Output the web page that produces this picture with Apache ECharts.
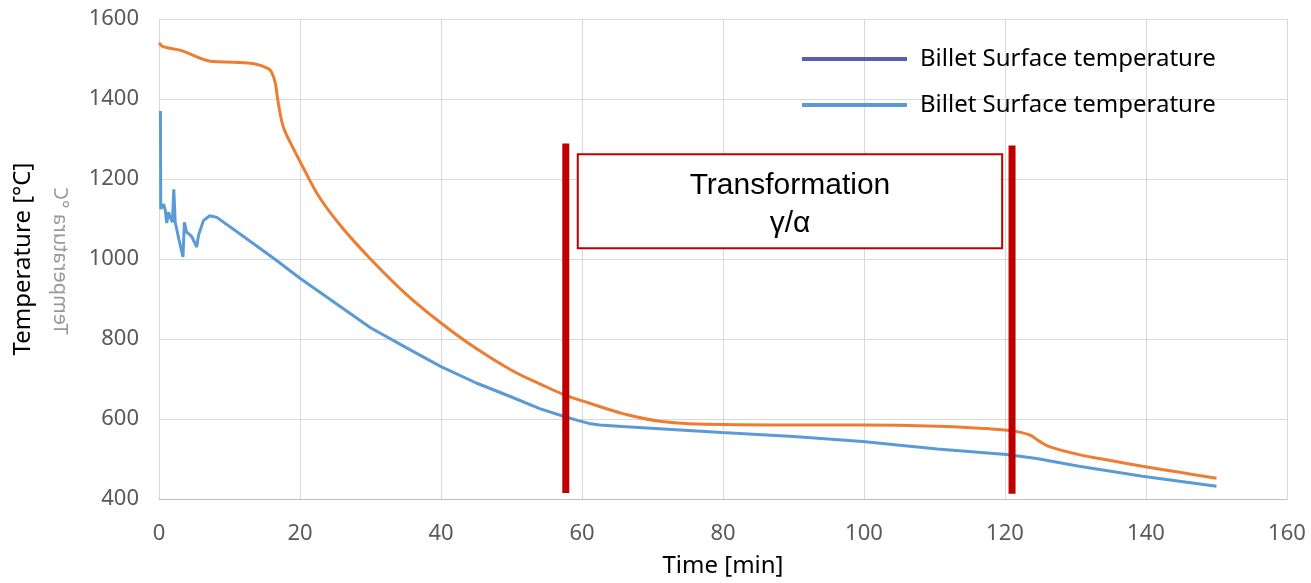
<!DOCTYPE html>
<html>
<head>
<meta charset="utf-8">
<script src="https://cdn.jsdelivr.net/npm/echarts@6/dist/echarts.min.js"></script>
<style>
  html, body { margin: 0; padding: 0; background: #fff; }
  #chart { width: 1311px; height: 583px; }
</style>
</head>
<body>
<div id="chart"></div>
<script>
// 中心温度 (orange)
var coreTime = [0, 0.6, 3.2, 7.5, 10.7, 13.5, 15.5, 16.0, 16.5, 16.8, 17.2, 17.5, 17.9, 18.6, 20.5, 22.8, 26, 30, 35, 40, 45, 50, 54, 57.7, 61, 65.7, 71.3, 79.8, 90, 99.8, 110.4, 117.4, 120.7, 123.5, 124.9, 126.3, 130.5, 135, 139.5, 145, 150];
var coreTemp = [1540, 1531, 1521, 1494, 1492, 1488, 1476, 1466, 1440, 1403, 1362, 1338, 1318, 1292, 1227, 1153, 1078, 1000, 913, 840, 776, 722, 688, 659, 640, 614, 594, 586, 585, 585, 582, 576, 571, 560, 544, 531, 511, 496, 482, 466, 452];

// 表面温度 (blue)
var surfTime = [0.2, 0.25, 0.66, 0.9, 1.1, 1.35, 1.7, 1.9, 2.1, 2.3, 2.8, 3.4, 3.6, 3.9, 4.65, 5.35, 5.6, 6.3, 7.2, 8.2, 11.7, 16.4, 20, 25, 30, 35, 40, 45, 50, 54, 57.7, 59.5, 61, 62.5, 65.7, 79.8, 90, 99.8, 110.4, 120.2, 124.5, 130.5, 139.5, 150];
var surfTemp = [1370, 1125, 1137, 1121, 1090, 1117, 1100, 1092, 1174, 1092, 1051, 1005, 1092, 1068, 1056, 1030, 1059, 1096, 1108, 1104, 1060, 1000, 952, 890, 828, 779, 731, 690, 655, 626, 605, 596, 589, 585, 581, 566, 556, 544, 525, 511, 501, 482, 457, 432];

// 相变区间 (red markers)
var transStart = [[57.7, 415], [57.7, 1289]];
var transEnd = [[121.0, 413], [121.0, 1284]];
var boxCorners = [[59.4, 1262], [119.6, 1027]];

var legendNames = ['surfA', 'surfB'];
var legendLabel = 'Billet Surface temperature';

function zip(a, b) {
  return a.map(function (v, i) { return [v, b[i]]; });
}

var myChart = echarts.init(document.getElementById('chart'));
var font = 'Noto Sans';

var option = {
  backgroundColor: '#fff',
  animation: false,
  grid: { left: 159, right: 24, top: 19, bottom: 79 },
  legend: {
    data: legendNames,
    orient: 'vertical',
    left: 802,
    top: 47,
    padding: 0,
    itemGap: 22,
    icon: 'rect',
    itemWidth: 105,
    itemHeight: 4,
    formatter: function () { return legendLabel; },
    textStyle: { fontFamily: font, fontSize: 24, color: '#000', padding: [0, 0, 0, 8] }
  },
  xAxis: {
    type: 'value',
    min: 0,
    max: 160,
    interval: 20,
    name: 'Time [min]',
    nameLocation: 'middle',
    nameGap: 55,
    nameTextStyle: { fontFamily: font, fontSize: 24, color: '#000' },
    axisLine: { lineStyle: { color: '#bfbfbf', width: 1 } },
    axisTick: { show: false },
    axisLabel: { margin: 24, fontFamily: font, fontSize: 22, color: '#595959' },
    splitLine: { show: true, lineStyle: { color: '#d9d9d9', width: 1 } }
  },
  yAxis: {
    type: 'value',
    min: 400,
    max: 1600,
    interval: 200,
    name: 'Temperature [°C]',
    nameLocation: 'middle',
    nameGap: 124,
    nameTextStyle: { fontFamily: font, fontSize: 24, color: '#000' },
    axisLine: { show: false },
    axisTick: { show: false },
    axisLabel: {
      margin: 20, fontFamily: font, fontSize: 22, color: '#595959',
      formatter: function (v) { return String(v); }
    },
    splitLine: { lineStyle: { color: '#d9d9d9', width: 1 } }
  },
  graphic: [{
    type: 'text',
    x: 60,
    y: 261,
    rotation: Math.PI / 2,
    scaleY: -1,
    silent: true,
    style: {
      text: 'Temperatura °C',
      fontFamily: font,
      fontSize: 20,
      fill: '#999',
      align: 'center',
      verticalAlign: 'middle'
    }
  }],
  series: [
    {
      name: 'core',
      type: 'line',
      data: zip(coreTime, coreTemp),
      smooth: 0.4,
      showSymbol: false,
      lineStyle: { color: '#ED7D31', width: 3 },
      itemStyle: { color: '#ED7D31' },
      z: 3
    },
    {
      name: 'surfB',
      type: 'line',
      data: zip(surfTime, surfTemp),
      smooth: false,
      showSymbol: false,
      lineStyle: { color: '#5B9BD5', width: 3 },
      itemStyle: { color: '#5B9BD5' },
      z: 3
    },
    {
      name: 'surfA',
      type: 'line',
      data: [],
      lineStyle: { color: '#5A5DB0', width: 3 },
      itemStyle: { color: '#5A5DB0' }
    },
    {
      name: 'start',
      type: 'line',
      data: transStart,
      silent: true,
      showSymbol: false,
      lineStyle: { color: '#C00000', width: 7, cap: 'butt' },
      z: 4,
      markArea: {
        silent: true,
        itemStyle: { color: '#fff', borderColor: '#C00000', borderWidth: 2, opacity: 1 },
        label: {
          show: true,
          position: 'inside',
          offset: [0, 4],
          formatter: 'Transformation\nγ/α',
          fontFamily: 'Liberation Sans',
          fontSize: 30,
          lineHeight: 38,
          color: '#000'
        },
        data: [[{ coord: boxCorners[0] }, { coord: boxCorners[1] }]]
      }
    },
    {
      name: 'end',
      type: 'line',
      data: transEnd,
      silent: true,
      showSymbol: false,
      lineStyle: { color: '#C00000', width: 7, cap: 'butt' },
      z: 4
    }
  ]
};

myChart.setOption(option);
window.addEventListener('resize', function () {
  myChart && myChart.resize();
});
</script>
</body>
</html>
